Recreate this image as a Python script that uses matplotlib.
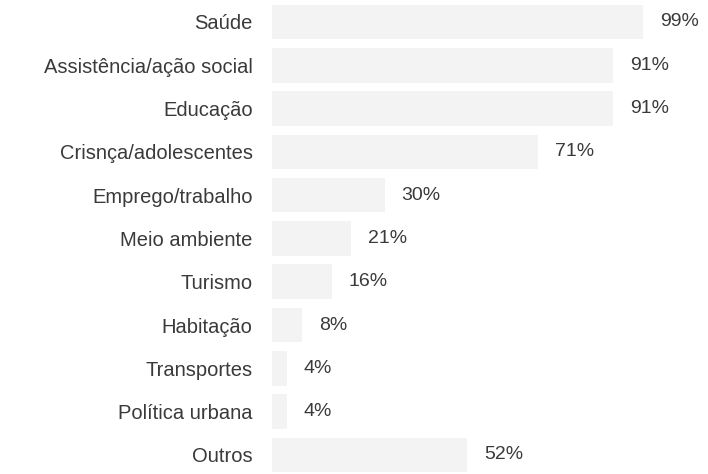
import matplotlib.pyplot as plt

categories = [
    "Saúde",
    "Assistência/ação social",
    "Educação",
    "Crisnça/adolescentes",
    "Emprego/trabalho",
    "Meio ambiente",
    "Turismo",
    "Habitação",
    "Transportes",
    "Política urbana",
    "Outros",
]
values = [99, 91, 91, 71, 30, 21, 16, 8, 4, 4, 52]
value_labels = ["99%", "91%", "91%", "71%", "30%", "21%", "16%", "8%", "4%", "4%", "52%"]

plt.rcParams["font.family"] = ["Liberation Sans", "DejaVu Sans"]

fig = plt.figure(figsize=(7.08, 4.74), dpi=100)
ax = fig.add_axes([272 / 708, 0, 436 / 708, 1])

rows = list(range(len(categories)))
ax.barh(rows, values, height=0.8, color="#f3f3f3", edgecolor="none")

for i, (v, lab) in enumerate(zip(values, value_labels)):
    ax.text(v + 4.5, i, lab, va="center", ha="left", fontsize=14, color="#3a3a3a")

ax.set_xlim(0, 436 / 3.75)
ax.set_ylim(10.44, -0.508)
ax.set_yticks(rows)
ax.set_yticklabels(categories, fontsize=14.5, color="#3a3a3a")
ax.tick_params(axis="y", length=0, pad=14)
ax.set_xticks([])
for s in ax.spines.values():
    s.set_visible(False)

fig.savefig("out.png", dpi=100)
